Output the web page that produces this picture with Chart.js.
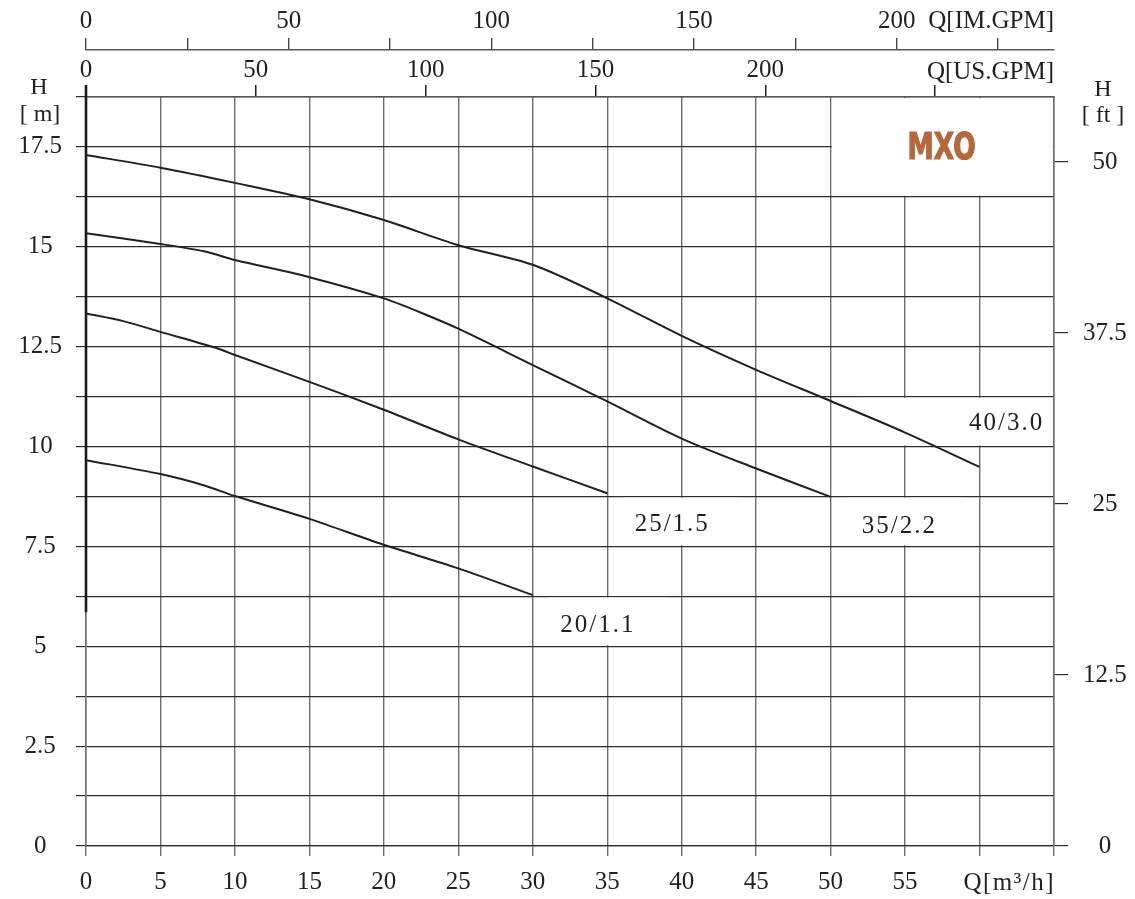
<!DOCTYPE html>
<html>
<head>
<meta charset="utf-8">
<script src="https://cdn.jsdelivr.net/npm/chart.js@4"></script>
<style>
html,body{margin:0;padding:0;background:#fff;}
canvas{display:block;}
</style>
</head>
<body>
<canvas id="c" width="1135" height="899" style="width:1135px;height:899px"></canvas>
<script>
// ---- data ----
const curveNames = ['40/3.0', '35/2.2', '25/1.5', '20/1.1'];
const q40 = [0, 5, 10, 15, 20, 25, 30, 35, 40, 45, 50, 55, 60];
const h40 = [17.30, 16.98, 16.60, 16.19, 15.67, 15.04, 14.55, 13.71, 12.77, 11.92, 11.14, 10.35, 9.49];
const q35 = [0, 5, 8, 10, 15, 20, 22.5, 25, 30, 35, 40, 45, 50];
const h35 = [15.34, 15.07, 14.88, 14.67, 14.24, 13.71, 13.35, 12.95, 12.04, 11.13, 10.20, 9.45, 8.74];
const q25 = [0, 2.5, 5, 8.8, 10, 15, 20, 25, 30, 35];
const h25 = [13.33, 13.14, 12.87, 12.46, 12.29, 11.62, 10.92, 10.18, 9.50, 8.83];
const q20 = [0, 5, 8, 10, 15, 20, 25, 30];
const h20 = [9.66, 9.31, 9.02, 8.76, 8.19, 7.54, 6.95, 6.28];

const flowMax = 65;          // m3/h
const flowLabelMax = 55;     // last numbered flow tick
const headMax = 18.75;       // m
const headFtMax = 54.75;     // ft (right axis as drawn)
const usGpmMax = 285;        // top axis 2
const imGpmMax = 238.8;      // top axis 1
const flowStep = 5, headStep = 1.25, ftStep = 12.5, usStep = 50, imStep = 25;

const brand = 'MXO';
const unitFlow = 'Q[m³/h]', unitUS = 'Q[US.GPM]', unitIM = 'Q[IM.GPM]';

// ---- annotation layout (not data) ----
const curveLabelPos = [[61.75, 10.59], [54.55, 7.99], [39.3, 8.06], [34.3, 5.53]];
const whiteBoxes = [ // [qFrom, qTo, hFrom, hTo]
  [50, 65, 16.25, 18.75],
  [52, 65, 10, 11.25],
  [51, 59, 7.5, 8.75],
  [36, 44, 7.5, 8.75],
  [31, 39, 5, 6.25]
];

const INK = '#231f20';
const SERIF = '"Liberation Serif", "Times New Roman", serif';
Chart.defaults.font.family = SERIF;
Chart.defaults.font.size = 25;
Chart.defaults.color = INK;

const pairs = (qs, hs) => qs.map((q, i) => ({x: q, y: hs[i]}));
const series = [[q40, h40], [q35, h35], [q25, h25], [q20, h20]];

const overlay = {
  id: 'overlay',
  beforeDatasetsDraw(chart) {
    const {ctx} = chart;
    const xs = chart.scales.x, ys = chart.scales.y;
    ctx.save();
    ctx.fillStyle = '#fff';
    for (const b of whiteBoxes) {
      const x0 = xs.getPixelForValue(b[0]) + 1.2;
      const x1 = xs.getPixelForValue(b[1]) - 1.2;
      const y0 = ys.getPixelForValue(b[3]) + 1.2;
      const y1 = ys.getPixelForValue(b[2]) - 1.2;
      ctx.fillRect(x0, y0, x1 - x0, y1 - y0);
    }
    // heavy left axis stroke (upper part)
    const x0 = Math.round(xs.getPixelForValue(0));
    ctx.strokeStyle = '#1e1a1a';
    ctx.lineWidth = 2.6;
    ctx.beginPath();
    ctx.moveTo(x0, chart.chartArea.top - 12);
    ctx.lineTo(x0, ys.getPixelForValue(5.85));
    ctx.stroke();
    ctx.restore();
  },
  afterDraw(chart) {
    const {ctx} = chart;
    const xs = chart.scales.x, ys = chart.scales.y;
    const ca = chart.chartArea;
    ctx.save();
    ctx.fillStyle = INK;
    ctx.textBaseline = 'middle';
    // curve labels
    ctx.font = '25px ' + SERIF;
    ctx.textAlign = 'center';
    try { ctx.letterSpacing = '2px'; } catch (e) {}
    curveNames.forEach((n, i) => {
      ctx.fillText(n, xs.getPixelForValue(curveLabelPos[i][0]) + 1, ys.getPixelForValue(curveLabelPos[i][1]));
    });
    try { ctx.letterSpacing = '1.5px'; } catch (e) {}
    ctx.textAlign = 'right';
    ctx.fillText(unitFlow, ca.right + 1, 883);
    try { ctx.letterSpacing = '0px'; } catch (e) {}
    ctx.fillText(unitUS, ca.right, 72);
    ctx.fillText(unitIM, ca.right, 21);
    // axis titles
    ctx.textAlign = 'center';
    ctx.font = '24px ' + SERIF;
    ctx.fillText('H', 39, 88);
    ctx.fillText('[ m]', 40, 115);
    ctx.fillText('H', 1103, 90);
    ctx.fillText('[ ft ]', 1103, 116);
    // brand
    ctx.font = 'bold 37px "DejaVu Sans", "Liberation Sans", sans-serif';
    try { ctx.fontStretch = 'condensed'; } catch (e) {}
    const w = ctx.measureText(brand).width;
    const cx = xs.getPixelForValue(57.45), cy = ys.getPixelForValue(17.45);
    ctx.translate(cx, cy);
    ctx.scale(68 / w, 1);
    ctx.fillStyle = '#b4683b';
    ctx.strokeStyle = '#b4683b';
    ctx.lineWidth = 1.2;
    ctx.fillText(brand, 0, 0);
    ctx.strokeText(brand, 0, 0);
    ctx.restore();
  }
};

const vGrid = '#6f6c6c', hGrid = '#2f2b2b';

new Chart(document.getElementById('c'), {
  type: 'line',
  data: {
    datasets: series.map((s, i) => ({
      label: curveNames[i],
      data: pairs(s[0], s[1]),
      borderColor: INK,
      borderWidth: 2,
      pointRadius: 0,
      fill: false,
      tension: 0.3,
      xAxisID: 'x', yAxisID: 'y'
    }))
  },
  options: {
    responsive: false,
    animation: false,
    events: [],
    layout: {padding: 0},
    plugins: {legend: {display: false}, tooltip: {enabled: false}, title: {display: false}},
    scales: {
      x: {
        type: 'linear', position: 'bottom', min: 0, max: flowMax,
        afterFit(s) { s.height = 53; },
        ticks: {stepSize: flowStep, padding: 11, maxRotation: 0, autoSkip: false,
          callback: v => (v <= flowLabelMax ? String(v) : '')},
        grid: {color: vGrid, lineWidth: 1.4, tickLength: 10, tickColor: vGrid},
        border: {color: hGrid, width: 1.3}
      },
      y: {
        type: 'linear', position: 'left', min: 0, max: headMax,
        afterFit(s) { s.width = 86; },
        ticks: {stepSize: headStep, padding: 14, crossAlign: 'center', autoSkip: false,
          callback: v => (Math.abs(v / 2.5 - Math.round(v / 2.5)) < 1e-6 && v < headMax ? String(v) : '')},
        grid: {color: hGrid, lineWidth: 1.2, tickLength: 10, tickColor: hGrid},
        border: {color: vGrid, width: 1.5}
      },
      yft: {
        type: 'linear', position: 'right', min: 0, max: headFtMax,
        afterFit(s) { s.width = 81; },
        ticks: {stepSize: ftStep, padding: 15, crossAlign: 'center', includeBounds: false, autoSkip: false,
          callback: v => String(v)},
        grid: {drawOnChartArea: false, color: hGrid, lineWidth: 1.2, tickLength: 14},
        border: {color: vGrid, width: 1.5}
      },
      xus: {
        type: 'linear', position: 'top', min: 0, max: usGpmMax, weight: 0,
        afterFit(s) { s.height = 47; },
        ticks: {stepSize: usStep, padding: 0, includeBounds: false, maxRotation: 0, autoSkip: false,
          callback: v => (v <= 200 ? String(v) : '')},
        grid: {drawOnChartArea: false, color: INK, lineWidth: 1.5, tickLength: 12},
        border: {color: '#5a5656', width: 1.4}
      },
      xim: {
        type: 'linear', position: 'top', min: 0, max: imGpmMax, weight: 1,
        afterFit(s) { s.height = 50; },
        ticks: {stepSize: imStep, padding: 2, includeBounds: false, maxRotation: 0, autoSkip: false,
          callback: v => (v % 50 === 0 ? String(v) : '')},
        grid: {drawOnChartArea: false, color: '#4a4646', lineWidth: 1.4, tickLength: 12},
        border: {color: '#5a5656', width: 1.5}
      }
    }
  },
  plugins: [overlay]
});
</script>
</body>
</html>
